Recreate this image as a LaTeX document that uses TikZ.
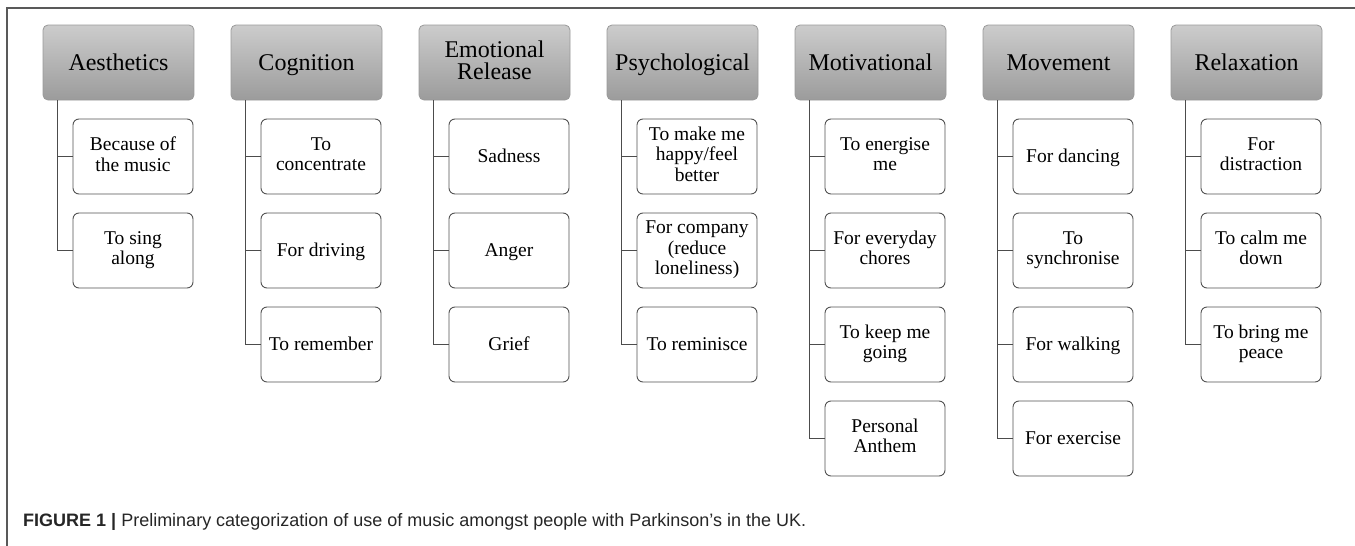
\documentclass[tikz,border=0pt]{standalone}
\usepackage{fontspec}
\setmainfont{Liberation Serif}
\newfontfamily\capfont{Liberation Sans}

\begin{document}
\begin{tikzpicture}[x=1pt,y=-1pt,
   cat/.style={draw=hdline,line width=0.8pt,rounded corners=5pt,top color=hdtop,bottom color=hdbot,
      minimum width=151pt,minimum height=75pt,inner sep=2pt,align=center,font=\fontsize{24}{22}\selectfont,
      execute at begin node=\rule{0pt}{21.5pt},execute at end node=\rule[-5.6pt]{0pt}{5.6pt}},
   item/.style={draw=itline,line width=0.9pt,rounded corners=6pt,fill=white,
      minimum width=120pt,minimum height=75pt,inner sep=2pt,align=center,font=\fontsize{19.5}{20.5}\selectfont,
      execute at begin node=\rule{0pt}{18pt},execute at end node=\rule[-5.1pt]{0pt}{5.1pt}},
   branch/.style={draw=brline,line width=0.9pt}]
\definecolor{hdtop}{gray}{0.80}
\definecolor{hdbot}{gray}{0.61}
\definecolor{hdline}{gray}{0.60}
\definecolor{itline}{gray}{0.32}
\definecolor{brline}{gray}{0.30}
\definecolor{framec}{gray}{0.35}

   \useasboundingbox (0,0) rectangle (1355,546);
   \draw[framec, line width=1.4pt] (1355,8) -- (7,8) -- (7,546);

   % categories and their uses
   \foreach \t/\kids [count=\i] in {
      Aesthetics/{{Because of\\the music},{To sing\\along}},
      Cognition/{{To\\concentrate},{For driving},{To remember}},
      Emotional\\Release/{{Sadness},{Anger},{Grief}},
      Psychological/{{To make me\\happy/feel\\better},{For company\\(reduce\\loneliness)},{To reminisce}},
      Motivational/{{To energise\\me},{For everyday\\chores},{To keep me\\going},{Personal\\Anthem}},
      Movement/{{For dancing},{To\\synchronise},{For walking},{For exercise}},
      Relaxation/{{For\\distraction},{To calm me\\down},{To bring me\\peace}}}
      {
      \node[cat] (h\i) at ({118.5+188*(\i-1)},62.5) {\t};
      \foreach \k [count=\j] in \kids
         {
         \node[item] (c\i-\j) at ({133+188*(\i-1)},{156.5+94*(\j-1)}) {\k};
         \draw[branch] ([xshift=15pt]h\i.south west) |- (c\i-\j.west);
         }
      }

   \node[anchor=base west, inner sep=0pt, text=black!85] (cap) at (23,526)
      {\capfont\fontsize{18}{21}\selectfont\textbf{FIGURE 1 |} Preliminary categorization of use of music amongst people with Parkinson’s in the UK.};

\end{tikzpicture}
\end{document}
